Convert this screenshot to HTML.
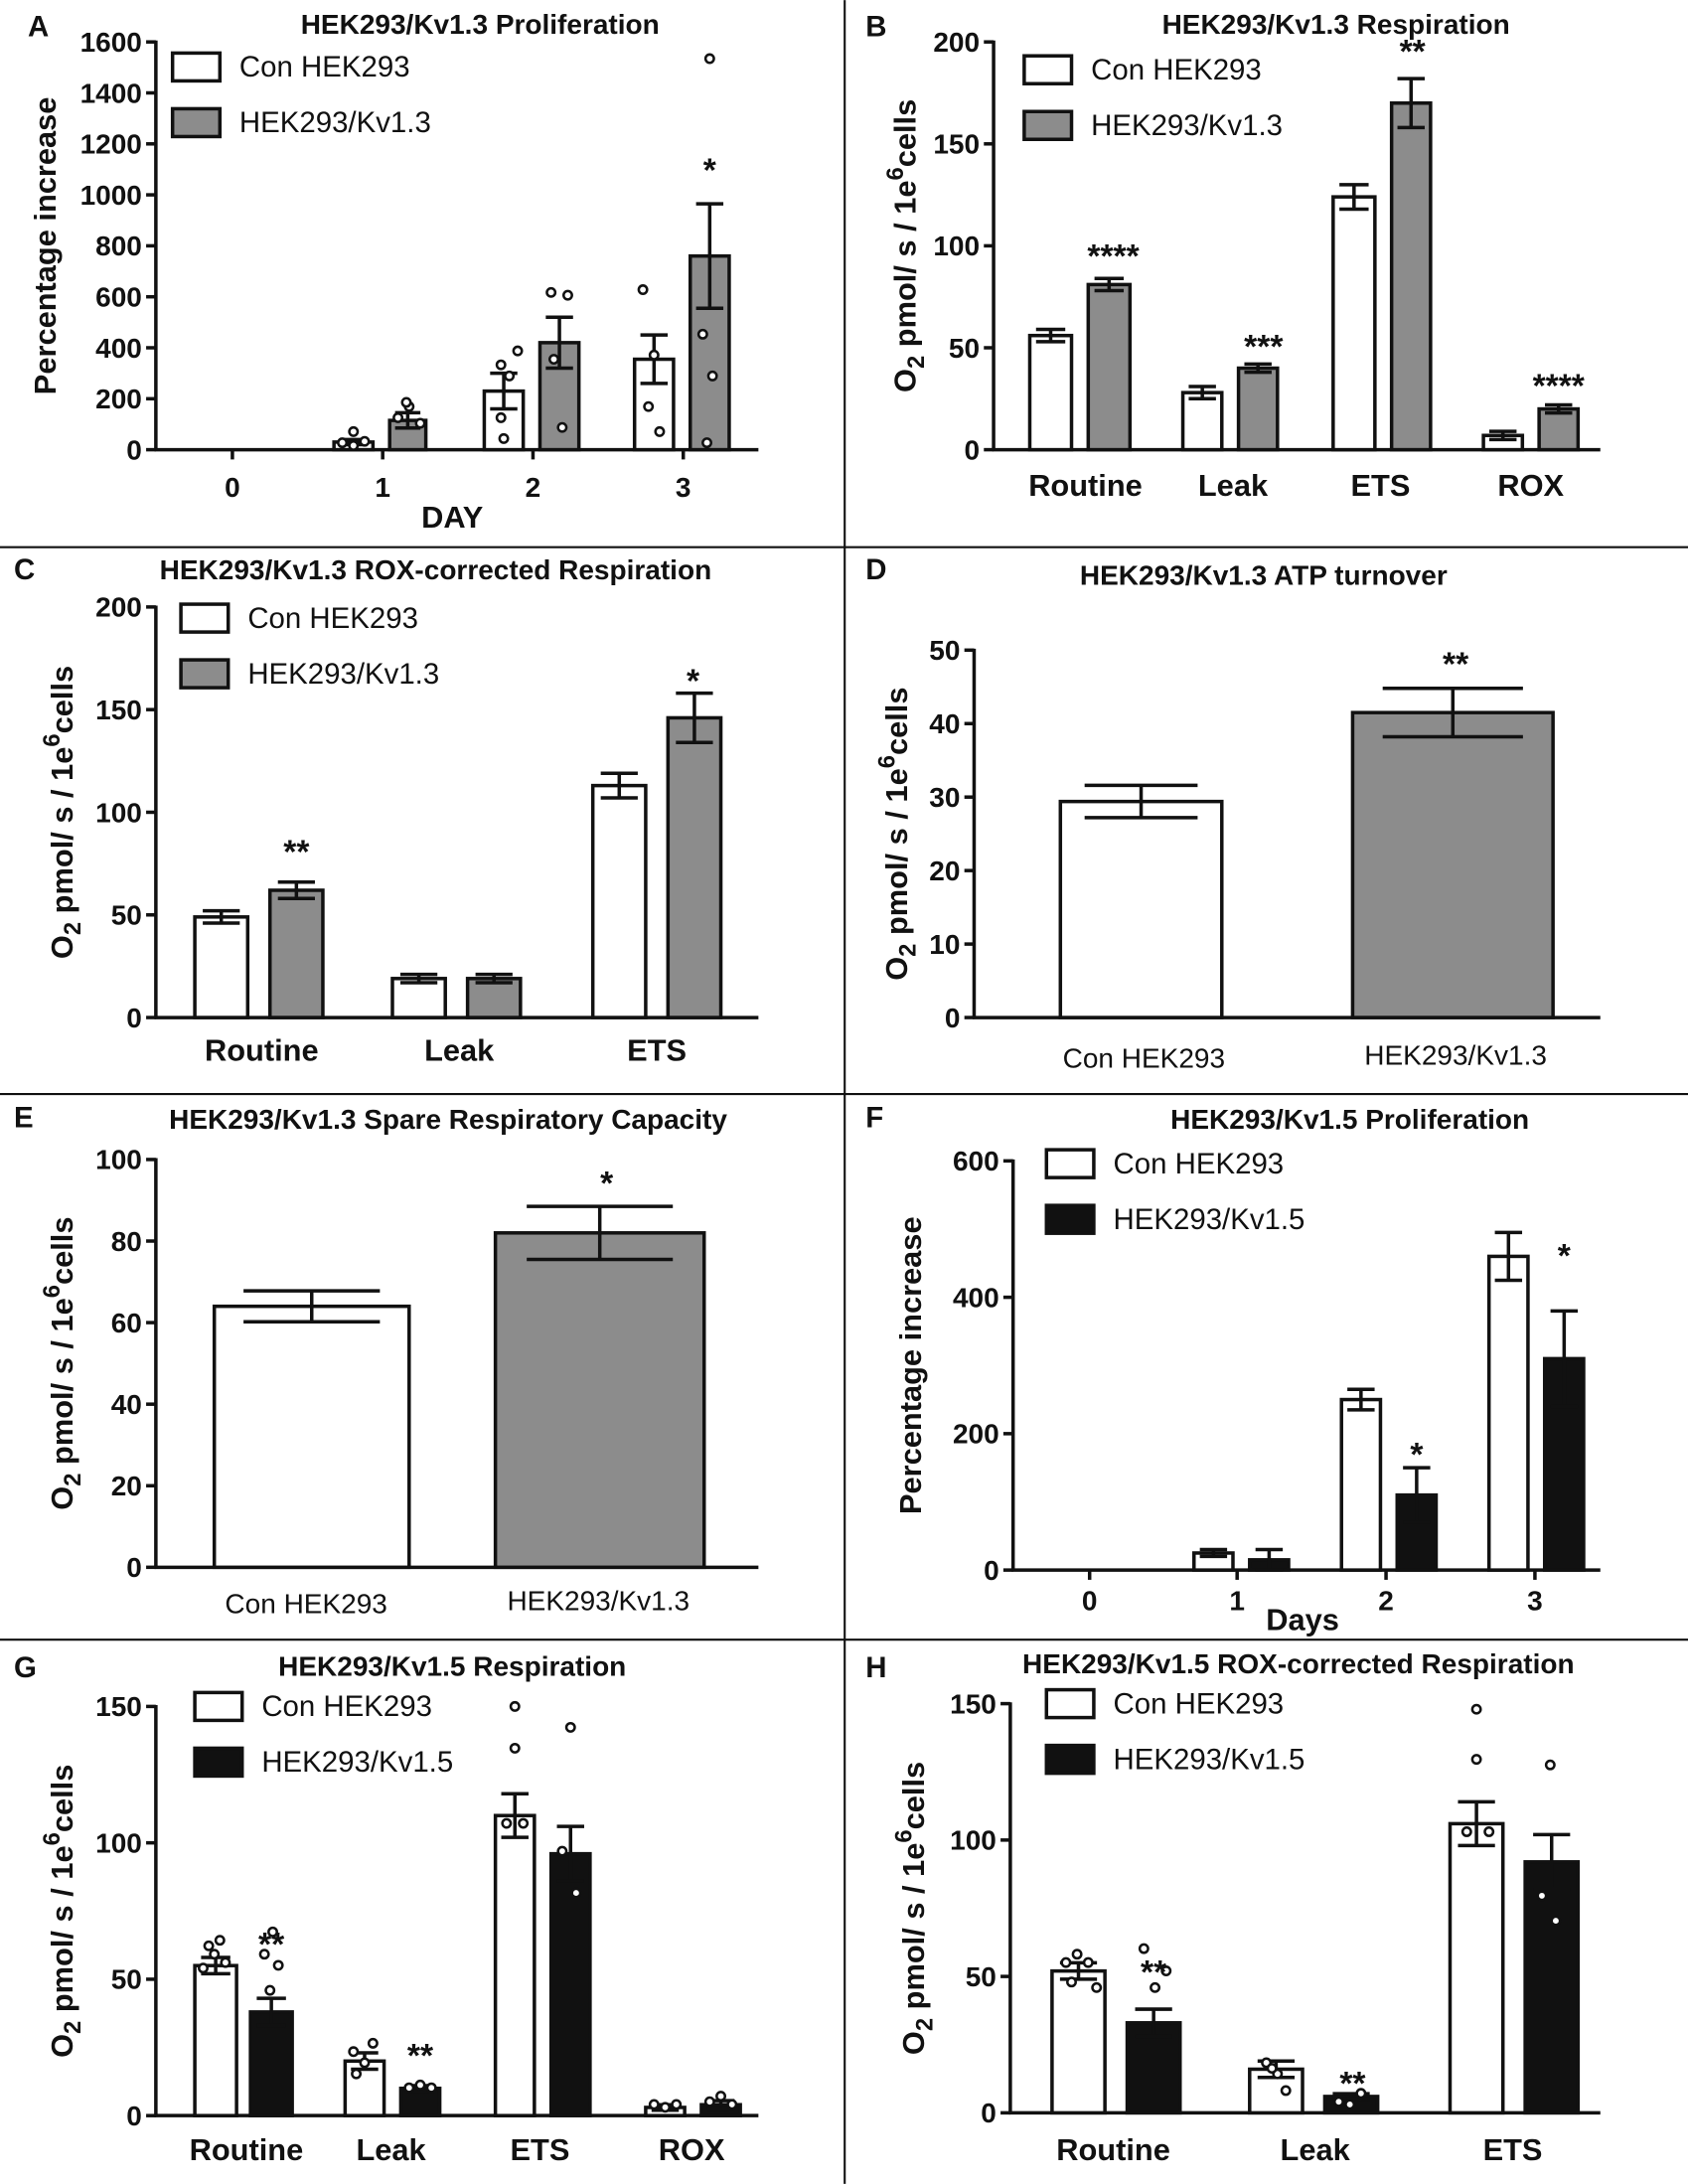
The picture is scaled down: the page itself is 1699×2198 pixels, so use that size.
<!DOCTYPE html>
<html><head><meta charset="utf-8"><style>
html,body{margin:0;padding:0;background:#fff}
svg{display:block}
text{font-family:"Liberation Sans",Arial,sans-serif}
</style></head><body>
<svg id="s" width="1699" height="2198" viewBox="0 0 1213 1569" xmlns="http://www.w3.org/2000/svg"></svg>
<script>
const S=document.getElementById('s');
let out='';
function t(x,y,str,o={}){out+=`<text x="${x}" y="${y}" font-size="${o.fs||20}" font-weight="${o.fw||'bold'}" text-anchor="${o.a||'middle'}" ${o.tr?`transform="${o.tr}"`:''} fill="#111">${str}</text>`;}
function l(x1,y1,x2,y2,w){out+=`<line x1="${x1}" y1="${y1}" x2="${x2}" y2="${y2}" stroke="#111" stroke-width="${w||2.5}"/>`;}
function r(x,y,w,h,f){out+=`<rect x="${x}" y="${y}" width="${w}" height="${h}" fill="${f}" stroke="#111" stroke-width="2.5"/>`;}
function c(x,y){out+=`<circle cx="${x}" cy="${y}" r="3" fill="#fff" stroke="#111" stroke-width="1.8"/>`;}
l(607,0,607,1569,1.5);l(0,393,1213,393,1.5);l(0,786,1213,786,1.5);l(0,1178,1213,1178,1.5);
function axis(p){
 const {ax,y0,y1,vmax,step,xend,ylabel,yl}=p;
 l(ax,y1-1,ax,y0+1);l(ax-1,y0,xend,y0);
 for(let v=0;v<=vmax+1e-9;v+=step){const y=y0-(y0-y1)*v/vmax;l(ax-7,y,ax,y);t(ax-10,y+7,v,{a:'end'});}
 if(ylabel==='O2'){
  const cx=yl,cy=(y0+y1)/2;
  out+=`<text transform="translate(${cx},${cy}) rotate(-90)" text-anchor="middle" font-size="22" font-weight="bold" fill="#111">O<tspan font-size="17" dy="6">2</tspan><tspan dy="-6"> pmol/ s / 1e</tspan><tspan font-size="17" dy="-9">6</tspan><tspan dy="9">cells</tspan></text>`;
 } else if(ylabel){t(0,0,ylabel,{fs:22,tr:`translate(${yl},${(y0+y1)/2}) rotate(-90)`});}
 return v=>y0-(y0-y1)*v/vmax;
}
function bar(Y,y0,x1,x2,v,err,fill){r(x1,Y(v),x2-x1,y0-Y(v),fill);const m=(x1+x2)/2,w=(x2-x1)*0.35;
 if(err){l(m,Y(v+err),m,Y(Math.max(0,v-err)),2.5);l(m-w,Y(v+err),m+w,Y(v+err));l(m-w,Y(v-err),m+w,Y(v-err));}}
function legend(x,y,c2,name2){r(x,y,34,20,'#fff');t(x+48,y+17,'Con HEK293',{fw:'normal',fs:21,a:'start'});r(x,y+40,34,20,c2);t(x+48,y+57,name2,{fw:'normal',fs:21,a:'start'});}
const G='#8c8c8c',K='#111';
// A
t(20,26,'A',{fs:21,a:'start'});t(345,24,'HEK293/Kv1.3 Proliferation');
let Y=axis({ax:112,y0:323,y1:30,vmax:1600,step:200,xend:545,ylabel:'Percentage increase',yl:40});
[167,275,383,491].forEach((x,i)=>{l(x,323,x,330);t(x,357,i);});t(325,379,'DAY',{fs:22});
bar(Y,323,240,268,30,10,'#fff');bar(Y,323,280,306,115,30,G);bar(Y,323,348,376,230,70,'#fff');bar(Y,323,388,416,420,100,G);bar(Y,323,456,484,355,95,'#fff');bar(Y,323,496,524,760,205,G);
[[246,318],[254,320],[262,317],[254,310],[286,300],[294,292],[302,304],[292,289],[360,262],[366,270],[372,252],[360,300],[362,315],[396,210],[408,212],[398,258],[404,307],[462,208],[470,255],[466,292],[474,310],[510,42],[505,240],[512,270],[508,318]].forEach(p=>c(...p));
t(510,130,'*',{fs:24});legend(124,38,G,'HEK293/Kv1.3');
// B
t(622,26,'B',{fs:21,a:'start'});t(960,24,'HEK293/Kv1.3 Respiration');
Y=axis({ax:714,y0:323,y1:30,vmax:200,step:50,xend:1150,ylabel:'O2',yl:658});
bar(Y,323,740,770,56,3,'#fff');bar(Y,323,782,812,81,3,G);bar(Y,323,850,878,28,3,'#fff');bar(Y,323,890,918,40,2,G);bar(Y,323,958,988,124,6,'#fff');bar(Y,323,1000,1028,170,12,G);bar(Y,323,1066,1094,7,2,'#fff');bar(Y,323,1106,1134,20,2,G);
[['Routine',780],['Leak',886],['ETS',992],['ROX',1100]].forEach(([s,x])=>t(x,356,s,{fs:22}));
t(800,192,'****',{fs:24});t(908,257,'***',{fs:24});t(1015,45,'**',{fs:24});t(1120,285,'****',{fs:24});legend(736,40,G,'HEK293/Kv1.3');
// C
t(10,416,'C',{fs:21,a:'start'});t(313,416,'HEK293/Kv1.3 ROX-corrected Respiration');
Y=axis({ax:112,y0:731,y1:436,vmax:200,step:50,xend:545,ylabel:'O2',yl:52});
bar(Y,731,140,178,49,3,'#fff');bar(Y,731,194,232,62,4,G);bar(Y,731,282,320,19,2,'#fff');bar(Y,731,336,374,19,2,G);bar(Y,731,426,464,113,6,'#fff');bar(Y,731,480,518,146,12,G);
[['Routine',188],['Leak',330],['ETS',472]].forEach(([s,x])=>t(x,762,s,{fs:22}));
t(213,620,'**',{fs:24});t(498,497,'*',{fs:24});legend(130,434,G,'HEK293/Kv1.3');
// D
t(622,416,'D',{fs:21,a:'start'});t(908,420,'HEK293/Kv1.3 ATP turnover');
Y=axis({ax:700,y0:731,y1:467,vmax:50,step:10,xend:1150,ylabel:'O2',yl:652});
bar(Y,731,762,878,29.4,2.2,'#fff');bar(Y,731,972,1116,41.5,3.3,G);
t(822,767,'Con HEK293',{fw:'normal',fs:20});t(1046,765,'HEK293/Kv1.3',{fw:'normal',fs:20});t(1046,485,'**',{fs:24});
// E
t(10,810,'E',{fs:21,a:'start'});t(322,811,'HEK293/Kv1.3 Spare Respiratory Capacity');
Y=axis({ax:112,y0:1126,y1:833,vmax:100,step:20,xend:545,ylabel:'O2',yl:52});
bar(Y,1126,154,294,64,3.8,'#fff');bar(Y,1126,356,506,82,6.5,G);
t(220,1159,'Con HEK293',{fw:'normal',fs:20});t(430,1157,'HEK293/Kv1.3',{fw:'normal',fs:20});t(436,858,'*',{fs:24});
// F
t(622,810,'F',{fs:21,a:'start'});t(970,811,'HEK293/Kv1.5 Proliferation');
Y=axis({ax:728,y0:1128,y1:834,vmax:600,step:200,xend:1150,ylabel:'Percentage increase',yl:662});
[783,889,996,1103].forEach((x,i)=>{l(x,1128,x,1135);t(x,1157,i);});t(936,1171,'Days',{fs:22});
bar(Y,1128,858,886,25,5,'#fff');bar(Y,1128,898,926,15,15,K);bar(Y,1128,964,992,250,15,'#fff');bar(Y,1128,1004,1032,110,40,K);bar(Y,1128,1070,1098,460,35,'#fff');bar(Y,1128,1110,1138,310,70,K);
t(1018,1053,'*',{fs:24});t(1124,910,'*',{fs:24});legend(752,826,K,'HEK293/Kv1.5');
// G
t(10,1205,'G',{fs:21,a:'start'});t(325,1204,'HEK293/Kv1.5 Respiration');
Y=axis({ax:112,y0:1520,y1:1226,vmax:150,step:50,xend:545,ylabel:'O2',yl:52});
bar(Y,1520,140,170,55,3,'#fff');bar(Y,1520,180,210,38,5,K);bar(Y,1520,248,276,20,3,'#fff');bar(Y,1520,288,316,10,1,K);bar(Y,1520,356,384,110,8,'#fff');bar(Y,1520,396,424,96,10,K);bar(Y,1520,464,492,3,1,'#fff');bar(Y,1520,504,532,4,1.5,K);
[[146,1414],[154,1404],[162,1410],[150,1398],[158,1394],[196,1388],[190,1404],[200,1412],[194,1430],[254,1474],[262,1482],[268,1468],[256,1490],[294,1500],[302,1498],[310,1500],[370,1226],[370,1256],[364,1310],[376,1310],[410,1241],[404,1330],[414,1360],[470,1512],[478,1514],[486,1512],[510,1510],[518,1506],[526,1512]].forEach(p=>c(...p));
[['Routine',177],['Leak',281],['ETS',388],['ROX',497]].forEach(([s,x])=>t(x,1552,s,{fs:22}));
t(195,1405,'**',{fs:24});t(302,1485,'**',{fs:24});legend(140,1216,K,'HEK293/Kv1.5');
// H
t(622,1205,'H',{fs:21,a:'start'});t(933,1202,'HEK293/Kv1.5 ROX-corrected Respiration');
Y=axis({ax:726,y0:1518,y1:1224,vmax:150,step:50,xend:1150,ylabel:'O2',yl:664});
bar(Y,1518,756,794,52,3,'#fff');bar(Y,1518,810,848,33,5,K);bar(Y,1518,898,936,16,3,'#fff');bar(Y,1518,952,990,6,1,K);bar(Y,1518,1042,1080,106,8,'#fff');bar(Y,1518,1096,1134,92,10,K);
[[766,1410],[774,1404],[782,1410],[770,1424],[788,1428],[822,1400],[830,1428],[838,1416],[910,1482],[918,1490],[924,1502],[914,1486],[962,1510],[970,1512],[978,1504],[1061,1228],[1061,1264],[1054,1316],[1070,1316],[1114,1268],[1108,1362],[1118,1380]].forEach(p=>c(...p));
[['Routine',800],['Leak',945],['ETS',1087]].forEach(([s,x])=>t(x,1552,s,{fs:22}));
t(829,1425,'**',{fs:24});t(972,1505,'**',{fs:24});legend(752,1214,K,'HEK293/Kv1.5');
S.innerHTML=out;
</script>
</body></html>
